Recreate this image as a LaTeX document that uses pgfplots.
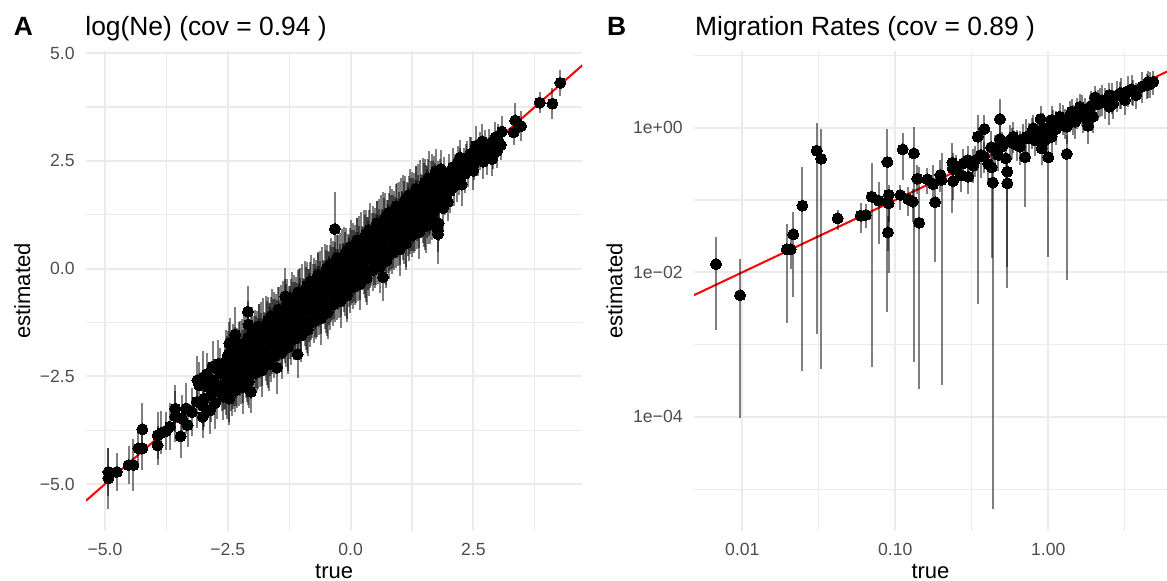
\documentclass[border=0pt]{standalone}
\usepackage{fontspec}
\setmainfont{Liberation Sans}
\usepackage{pgfplots}
\usepackage{pgfplotstable}
\pgfplotsset{compat=1.18}
\definecolor{grid92}{HTML}{EBEBEB}
\definecolor{grey30}{HTML}{4D4D4D}

\pgfplotstableread[row sep=\\]{
x y e \\
-2.60 -2.97 .55 \\ -2.57 -2.67 .62 \\ -2.55 -2.37 .48 \\ -2.53 -2.13 .70 \\ -2.51 -2.83 .66 \\
-2.49 -2.40 .58 \\ -2.48 -2.83 .74 \\ -2.46 -2.12 .52 \\ -2.44 -2.50 .80 \\ -2.42 -1.90 .45 \\
-2.40 -2.57 .68 \\ -2.37 -2.10 .60 \\ -2.35 -2.83 .50 \\ -2.33 -2.25 .75 \\ -2.31 -1.97 .58 \\
-2.28 -2.57 .62 \\ -2.26 -1.77 .55 \\ -2.25 -2.25 .70 \\ -2.23 -2.40 .52 \\ -2.22 -2.03 .85 \\
-2.20 -2.57 .55 \\ -2.17 -2.27 .62 \\ -2.15 -1.97 .48 \\ -2.13 -1.73 .70 \\ -2.11 -2.43 .66 \\
-2.09 -2.00 .58 \\ -2.08 -2.43 .74 \\ -2.06 -1.72 .52 \\ -2.04 -2.10 .80 \\ -2.02 -1.50 .45 \\
-2.00 -2.17 .68 \\ -1.97 -1.70 .60 \\ -1.95 -2.43 .50 \\ -1.93 -1.85 .75 \\ -1.91 -1.57 .58 \\
-1.88 -2.17 .62 \\ -1.86 -1.37 .55 \\ -1.85 -1.85 .70 \\ -1.83 -2.00 .52 \\ -1.82 -1.63 .85 \\
-1.80 -2.17 .55 \\ -1.77 -1.87 .62 \\ -1.75 -1.57 .48 \\ -1.73 -1.33 .70 \\ -1.71 -2.03 .66 \\
-1.69 -1.60 .58 \\ -1.68 -2.03 .74 \\ -1.66 -1.32 .52 \\ -1.64 -1.70 .80 \\ -1.62 -1.10 .45 \\
-1.60 -1.77 .68 \\ -1.57 -1.30 .60 \\ -1.55 -2.03 .50 \\ -1.53 -1.45 .75 \\ -1.51 -1.17 .58 \\
-1.48 -1.77 .62 \\ -1.46 -0.97 .55 \\ -1.45 -1.45 .70 \\ -1.43 -1.60 .52 \\ -1.42 -1.23 .85 \\
-1.40 -1.77 .55 \\ -1.37 -1.47 .62 \\ -1.35 -1.17 .48 \\ -1.33 -0.93 .70 \\ -1.31 -1.63 .66 \\
-1.29 -1.20 .58 \\ -1.28 -1.63 .74 \\ -1.26 -0.92 .52 \\ -1.24 -1.30 .80 \\ -1.22 -0.70 .45 \\
-1.20 -1.37 .68 \\ -1.17 -0.90 .60 \\ -1.15 -1.63 .50 \\ -1.13 -1.05 .75 \\ -1.11 -0.77 .58 \\
-1.08 -1.37 .62 \\ -1.06 -0.57 .55 \\ -1.05 -1.05 .70 \\ -1.03 -1.20 .52 \\ -1.02 -0.83 .85 \\
-1.00 -1.37 .55 \\ -0.97 -1.07 .62 \\ -0.95 -0.77 .48 \\ -0.93 -0.53 .70 \\ -0.91 -1.23 .66 \\
-0.89 -0.80 .58 \\ -0.88 -1.23 .74 \\ -0.86 -0.52 .52 \\ -0.84 -0.90 .80 \\ -0.82 -0.30 .45 \\
-0.80 -0.97 .68 \\ -0.77 -0.50 .60 \\ -0.75 -1.23 .50 \\ -0.73 -0.65 .75 \\ -0.71 -0.37 .58 \\
-0.68 -0.97 .62 \\ -0.66 -0.17 .55 \\ -0.65 -0.65 .70 \\ -0.63 -0.80 .52 \\ -0.62 -0.43 .85 \\
-0.60 -0.97 .55 \\ -0.57 -0.67 .62 \\ -0.55 -0.37 .48 \\ -0.53 -0.13 .70 \\ -0.51 -0.83 .66 \\
-0.49 -0.40 .58 \\ -0.48 -0.83 .74 \\ -0.46 -0.12 .52 \\ -0.44 -0.50 .80 \\ -0.42 0.10 .45 \\
-0.40 -0.57 .68 \\ -0.37 -0.10 .60 \\ -0.35 -0.83 .50 \\ -0.33 -0.25 .75 \\ -0.31 0.03 .58 \\
-0.28 -0.57 .62 \\ -0.26 0.23 .55 \\ -0.25 -0.25 .70 \\ -0.23 -0.40 .52 \\ -0.22 -0.03 .85 \\
-0.20 -0.57 .55 \\ -0.17 -0.27 .62 \\ -0.15 0.03 .48 \\ -0.13 0.27 .70 \\ -0.11 -0.43 .66 \\
-0.09 0.00 .58 \\ -0.08 -0.43 .74 \\ -0.06 0.28 .52 \\ -0.04 -0.10 .80 \\ -0.02 0.50 .45 \\
0.00 -0.17 .68 \\ 0.03 0.30 .60 \\ 0.05 -0.43 .50 \\ 0.07 0.15 .75 \\ 0.09 0.43 .58 \\
0.12 -0.17 .62 \\ 0.14 0.63 .55 \\ 0.15 0.15 .70 \\ 0.17 0.00 .52 \\ 0.18 0.37 .85 \\
0.20 -0.17 .55 \\ 0.23 0.13 .62 \\ 0.25 0.43 .48 \\ 0.27 0.67 .70 \\ 0.29 -0.03 .66 \\
0.31 0.40 .58 \\ 0.32 -0.03 .74 \\ 0.34 0.68 .52 \\ 0.36 0.30 .80 \\ 0.38 0.90 .45 \\
0.40 0.23 .68 \\ 0.43 0.70 .60 \\ 0.45 -0.03 .50 \\ 0.47 0.55 .75 \\ 0.49 0.83 .58 \\
0.52 0.23 .62 \\ 0.54 1.03 .55 \\ 0.55 0.55 .70 \\ 0.57 0.40 .52 \\ 0.58 0.77 .85 \\
0.60 0.23 .55 \\ 0.63 0.53 .62 \\ 0.65 0.83 .48 \\ 0.67 1.07 .70 \\ 0.69 0.37 .66 \\
0.71 0.80 .58 \\ 0.72 0.37 .74 \\ 0.74 1.08 .52 \\ 0.76 0.70 .80 \\ 0.78 1.30 .45 \\
0.80 0.63 .68 \\ 0.83 1.10 .60 \\ 0.85 0.37 .50 \\ 0.87 0.95 .75 \\ 0.89 1.23 .58 \\
0.92 0.63 .62 \\ 0.94 1.43 .55 \\ 0.95 0.95 .70 \\ 0.97 0.80 .52 \\ 0.98 1.17 .85 \\
1.00 0.63 .55 \\ 1.03 0.93 .62 \\ 1.05 1.23 .48 \\ 1.07 1.47 .70 \\ 1.09 0.77 .66 \\
1.11 1.20 .58 \\ 1.12 0.77 .74 \\ 1.14 1.48 .52 \\ 1.16 1.10 .80 \\ 1.18 1.70 .45 \\
1.20 1.03 .68 \\ 1.23 1.50 .60 \\ 1.25 0.77 .50 \\ 1.27 1.35 .75 \\ 1.29 1.63 .58 \\
1.32 1.03 .62 \\ 1.34 1.83 .55 \\ 1.35 1.35 .70 \\ 1.37 1.20 .52 \\ 1.38 1.57 .85 \\
1.40 1.03 .55 \\ 1.43 1.33 .62 \\ 1.45 1.63 .48 \\ 1.47 1.87 .70 \\ 1.49 1.17 .66 \\
1.51 1.60 .58 \\ 1.52 1.17 .74 \\ 1.54 1.88 .52 \\ 1.56 1.50 .80 \\ 1.58 2.10 .45 \\
1.60 1.43 .68 \\ 1.63 1.90 .60 \\ 1.65 1.17 .50 \\ 1.67 1.75 .75 \\ 1.69 2.03 .58 \\
-2.55 -2.55 .72 \\ -2.53 -2.80 .60 \\ -2.51 -2.22 .66 \\ -2.49 -2.00 .55 \\ -2.47 -3.02 .62 \\
-2.44 -2.25 .64 \\ -2.42 -2.85 .58 \\ -2.40 -1.98 .70 \\ -2.38 -2.58 .62 \\ -2.36 -2.40 .50 \\
-2.35 -1.95 .60 \\ -2.33 -2.40 .78 \\ -2.31 -2.68 .56 \\ -2.29 -2.18 .64 \\ -2.27 -1.75 .52 \\
-2.24 -2.45 .70 \\ -2.22 -2.00 .58 \\ -2.20 -2.75 .62 \\ -2.18 -1.75 .66 \\ -2.16 -2.15 .74 \\
-2.15 -2.15 .72 \\ -2.13 -2.40 .60 \\ -2.11 -1.82 .66 \\ -2.09 -1.60 .55 \\ -2.07 -2.62 .62 \\
-2.04 -1.85 .64 \\ -2.02 -2.45 .58 \\ -2.00 -1.58 .70 \\ -1.98 -2.18 .62 \\ -1.96 -2.00 .50 \\
-1.95 -1.55 .60 \\ -1.93 -2.00 .78 \\ -1.91 -2.28 .56 \\ -1.89 -1.78 .64 \\ -1.87 -1.35 .52 \\
-1.84 -2.05 .70 \\ -1.82 -1.60 .58 \\ -1.80 -2.35 .62 \\ -1.78 -1.35 .66 \\ -1.76 -1.75 .74 \\
-1.75 -1.75 .72 \\ -1.73 -2.00 .60 \\ -1.71 -1.42 .66 \\ -1.69 -1.20 .55 \\ -1.67 -2.22 .62 \\
-1.64 -1.45 .64 \\ -1.62 -2.05 .58 \\ -1.60 -1.18 .70 \\ -1.58 -1.78 .62 \\ -1.56 -1.60 .50 \\
-1.55 -1.15 .60 \\ -1.53 -1.60 .78 \\ -1.51 -1.88 .56 \\ -1.49 -1.38 .64 \\ -1.47 -0.95 .52 \\
-1.44 -1.65 .70 \\ -1.42 -1.20 .58 \\ -1.40 -1.95 .62 \\ -1.38 -0.95 .66 \\ -1.36 -1.35 .74 \\
-1.35 -1.35 .72 \\ -1.33 -1.60 .60 \\ -1.31 -1.02 .66 \\ -1.29 -0.80 .55 \\ -1.27 -1.82 .62 \\
-1.24 -1.05 .64 \\ -1.22 -1.65 .58 \\ -1.20 -0.78 .70 \\ -1.18 -1.38 .62 \\ -1.16 -1.20 .50 \\
-1.15 -0.75 .60 \\ -1.13 -1.20 .78 \\ -1.11 -1.48 .56 \\ -1.09 -0.98 .64 \\ -1.07 -0.55 .52 \\
-1.04 -1.25 .70 \\ -1.02 -0.80 .58 \\ -1.00 -1.55 .62 \\ -0.98 -0.55 .66 \\ -0.96 -0.95 .74 \\
-0.95 -0.95 .72 \\ -0.93 -1.20 .60 \\ -0.91 -0.62 .66 \\ -0.89 -0.40 .55 \\ -0.87 -1.42 .62 \\
-0.84 -0.65 .64 \\ -0.82 -1.25 .58 \\ -0.80 -0.38 .70 \\ -0.78 -0.98 .62 \\ -0.76 -0.80 .50 \\
-0.75 -0.35 .60 \\ -0.73 -0.80 .78 \\ -0.71 -1.08 .56 \\ -0.69 -0.58 .64 \\ -0.67 -0.15 .52 \\
-0.64 -0.85 .70 \\ -0.62 -0.40 .58 \\ -0.60 -1.15 .62 \\ -0.58 -0.15 .66 \\ -0.56 -0.55 .74 \\
-0.55 -0.55 .72 \\ -0.53 -0.80 .60 \\ -0.51 -0.22 .66 \\ -0.49 0.00 .55 \\ -0.47 -1.02 .62 \\
-0.44 -0.25 .64 \\ -0.42 -0.85 .58 \\ -0.40 0.02 .70 \\ -0.38 -0.58 .62 \\ -0.36 -0.40 .50 \\
-0.35 0.05 .60 \\ -0.33 -0.40 .78 \\ -0.31 -0.68 .56 \\ -0.29 -0.18 .64 \\ -0.27 0.25 .52 \\
-0.24 -0.45 .70 \\ -0.22 0.00 .58 \\ -0.20 -0.75 .62 \\ -0.18 0.25 .66 \\ -0.16 -0.15 .74 \\
-0.15 -0.15 .72 \\ -0.13 -0.40 .60 \\ -0.11 0.18 .66 \\ -0.09 0.40 .55 \\ -0.07 -0.62 .62 \\
-0.04 0.15 .64 \\ -0.02 -0.45 .58 \\ 0.00 0.42 .70 \\ 0.02 -0.18 .62 \\ 0.04 0.00 .50 \\
0.05 0.45 .60 \\ 0.07 0.00 .78 \\ 0.09 -0.28 .56 \\ 0.11 0.22 .64 \\ 0.13 0.65 .52 \\
0.16 -0.05 .70 \\ 0.18 0.40 .58 \\ 0.20 -0.35 .62 \\ 0.22 0.65 .66 \\ 0.24 0.25 .74 \\
0.25 0.25 .72 \\ 0.27 0.00 .60 \\ 0.29 0.58 .66 \\ 0.31 0.80 .55 \\ 0.33 -0.22 .62 \\
0.36 0.55 .64 \\ 0.38 -0.05 .58 \\ 0.40 0.82 .70 \\ 0.42 0.22 .62 \\ 0.44 0.40 .50 \\
0.45 0.85 .60 \\ 0.47 0.40 .78 \\ 0.49 0.12 .56 \\ 0.51 0.62 .64 \\ 0.53 1.05 .52 \\
0.56 0.35 .70 \\ 0.58 0.80 .58 \\ 0.60 0.05 .62 \\ 0.62 1.05 .66 \\ 0.64 0.65 .74 \\
0.65 0.65 .72 \\ 0.67 0.40 .60 \\ 0.69 0.98 .66 \\ 0.71 1.20 .55 \\ 0.73 0.18 .62 \\
0.76 0.95 .64 \\ 0.78 0.35 .58 \\ 0.80 1.22 .70 \\ 0.82 0.62 .62 \\ 0.84 0.80 .50 \\
0.85 1.25 .60 \\ 0.87 0.80 .78 \\ 0.89 0.52 .56 \\ 0.91 1.02 .64 \\ 0.93 1.45 .52 \\
0.96 0.75 .70 \\ 0.98 1.20 .58 \\ 1.00 0.45 .62 \\ 1.02 1.45 .66 \\ 1.04 1.05 .74 \\
1.05 1.05 .72 \\ 1.07 0.80 .60 \\ 1.09 1.38 .66 \\ 1.11 1.60 .55 \\ 1.13 0.58 .62 \\
1.16 1.35 .64 \\ 1.18 0.75 .58 \\ 1.20 1.62 .70 \\ 1.22 1.02 .62 \\ 1.24 1.20 .50 \\
1.25 1.65 .60 \\ 1.27 1.20 .78 \\ 1.29 0.92 .56 \\ 1.31 1.42 .64 \\ 1.33 1.85 .52 \\
1.36 1.15 .70 \\ 1.38 1.60 .58 \\ 1.40 0.85 .62 \\ 1.42 1.85 .66 \\ 1.44 1.45 .74 \\
1.45 1.45 .72 \\ 1.47 1.20 .60 \\ 1.49 1.78 .66 \\ 1.51 2.00 .55 \\ 1.53 0.98 .62 \\
1.56 1.75 .64 \\ 1.58 1.15 .58 \\ 1.60 2.02 .70 \\ 1.62 1.42 .62 \\ 1.64 1.60 .50 \\
1.65 2.05 .60 \\ 1.67 1.60 .78 \\ 1.69 1.32 .56 \\ 1.71 1.82 .64 \\ 1.73 2.25 .52 \\
1.70 1.45 .50 \\ 1.72 1.95 .45 \\ 1.75 1.70 .55 \\ 1.77 2.10 .40 \\
1.80 1.60 .45 \\ 1.83 2.05 .50 \\ 1.85 1.85 .40 \\ 1.88 1.40 .55 \\
1.90 2.15 .45 \\ 1.92 1.75 .50 \\ 1.95 1.95 .40 \\ 1.98 1.55 .45 \\
2.00 2.20 .45 \\ 2.03 1.80 .50 \\ 2.05 2.00 .40 \\ 2.08 2.35 .45 \\
2.10 1.90 .45 \\ 2.13 2.25 .40 \\ 2.16 2.05 .50 \\ 2.18 2.45 .40 \\
2.20 2.10 .40 \\ 2.23 2.35 .45 \\ 2.26 1.95 .50 \\
2.30 2.40 .40 \\ 2.33 2.20 .45 \\ 2.37 2.55 .40 \\
2.40 2.30 .40 \\ 2.45 2.60 .45 \\ 2.52 2.45 .40 \\
4.27 4.31 .30 \\ 3.85 3.85 .25 \\ 4.11 3.83 .35 \\ 3.35 3.44 .40 \\ 3.47 3.31 .35 \\
3.32 3.16 .30 \\ 3.08 3.18 .35 \\ 3.01 2.96 .40 \\ 3.06 2.87 .35 \\ 2.98 2.73 .40 \\
2.88 2.54 .40 \\ 2.74 2.81 .40 \\ 2.64 2.73 .45 \\ 2.77 2.58 .40 \\ 2.50 2.27 .45 \\
2.43 2.66 .40 \\ 2.23 2.58 .40 \\ 1.84 2.31 .45 \\ 1.79 1.05 .40 \\ 1.78 0.80 .70 \\
1.62 1.02 .45 \\ 1.78 0.88 .50 \\
2.60 2.55 .40 \\ 2.68 2.95 .40 \\ 2.82 2.90 .35 \\ 2.90 2.70 .40 \\ 2.55 2.85 .45 \\
2.35 2.50 .40 \\ 2.70 2.48 .40 \\ 2.95 3.05 .35 \\
-4.93 -4.72 .55 \\ -4.93 -4.87 .70 \\ -4.76 -4.72 .45 \\ -4.52 -4.56 .45 \\ -4.42 -4.56 .60 \\
-4.32 -4.17 .45 \\ -4.24 -4.17 .50 \\ -4.24 -3.73 .60 \\ -3.93 -4.10 .45 \\ -3.93 -3.87 .55 \\
-3.85 -3.81 .50 \\ -3.76 -3.77 .45 \\ -3.68 -3.67 .55 \\ -3.57 -3.43 .60 \\ -3.57 -3.25 .55 \\
-3.46 -3.89 .50 \\ -3.44 -3.48 .55 \\ -3.32 -3.63 .50 \\ -3.35 -3.25 .60 \\ -3.23 -3.33 .55 \\
-3.13 -3.09 .60 \\ -3.01 -3.44 .50 \\ -3.00 -3.19 .55 \\ -2.98 -3.02 .65 \\ -3.12 -2.59 .55 \\
-3.00 -2.52 .60 \\ -3.08 -2.71 .55 \\ -2.86 -3.29 .55 \\ -2.76 -3.12 .60 \\ -2.81 -2.28 .60 \\
-2.69 -2.21 .55 \\ -2.45 -1.74 .60 \\ -2.35 -1.53 .65 \\ -2.03 -2.86 .50 \\ -2.09 -1.00 .60 \\
-2.08 -1.30 .55 \\ -2.47 -1.73 .50 \\ -1.50 -2.30 .60 \\ -1.08 -1.99 .55 \\ -1.33 -0.64 .65 \\
-0.32 0.92 .85 \\ 0.66 -0.20 .55 \\
-2.90 -2.75 .55 \\ -2.85 -2.95 .60 \\ -2.78 -2.60 .50 \\ -2.72 -2.85 .65 \\ -2.66 -2.40 .55 \\
-2.62 -2.70 .60 \\ -2.93 -2.45 .50 \\
}\neData

\pgfplotstableread[row sep=\\]{
x y lo hi \\
0.00673 0.0130 0.00159 0.031 \\
0.00966 0.00481 0.000096 0.0151 \\
0.0195 0.0208 0.00197 0.047 \\
0.0207 0.0208 0.011 0.035 \\
0.0215 0.0335 0.0046 0.069 \\
0.0247 0.0834 0.000436 0.283 \\
0.0306 0.481 0.00139 1.17 \\
0.0327 0.372 0.000456 0.97 \\
0.042 0.0558 0.038 0.073 \\
0.0594 0.0607 0.0353 0.0918 \\
0.0641 0.062 0.0407 0.088 \\
0.0701 0.111 0.00049 0.32 \\
0.0779 0.0979 0.025 0.18 \\
0.0887 0.336 0.0028 0.95 \\
0.0906 0.118 0.0097 0.16 \\
0.0906 0.09 0.05 0.14 \\
0.0895 0.0357 0.02 0.06 \\
0.1117 0.50 0.19 0.84 \\
0.108 0.117 0.073 0.16 \\
0.1216 0.102 0.06 0.15 \\
0.1324 0.442 0.00058 1.03 \\
0.130 0.095 0.05 0.14 \\
0.139 0.197 0.12 0.30 \\
0.143 0.0485 0.00024 0.29 \\
0.162 0.193 0.12 0.28 \\
0.182 0.093 0.014 0.20 \\
0.177 0.166 0.09 0.30 \\
0.201 0.189 0.00028 0.44 \\
0.197 0.222 0.13 0.36 \\
0.236 0.328 0.066 0.61 \\
0.237 0.274 0.16 0.45 \\
0.239 0.183 0.10 0.30 \\
0.278 0.322 0.20 0.50 \\
0.297 0.357 0.20 0.55 \\
0.30 0.21 0.12 0.35 \\
0.324 0.298 0.17 0.50 \\
0.346 0.75 0.0037 1.5 \\
0.382 0.96 0.45 1.5 \\
0.362 0.42 0.20 0.70 \\
0.406 0.315 0.16 0.55 \\
0.423 0.536 0.30 0.90 \\
0.426 0.283 0.016 0.50 \\
0.434 0.174 0.0000054 0.40 \\
0.483 1.32 0.61 2.46 \\
0.483 0.70 0.35 1.10 \\
0.528 0.377 0.20 0.65 \\
0.54 0.246 0.012 0.45 \\
0.54 0.17 0.006 0.35 \\
0.562 0.676 0.40 1.10 \\
0.59 0.75 0.45 1.20 \\
0.653 0.546 0.30 0.90 \\
0.705 0.39 0.08 0.70 \\
0.72 0.75 0.45 1.30 \\
0.798 0.98 0.55 1.50 \\
0.818 0.676 0.40 1.10 \\
0.891 1.32 0.80 2.00 \\
0.905 0.52 0.30 0.85 \\
0.95 0.676 0.40 1.10 \\
1.00 0.39 0.0165 0.70 \\
1.05 1.28 0.75 2.00 \\
1.05 0.75 0.45 1.20 \\
1.13 1.09 0.65 1.70 \\
1.19 1.42 0.85 2.20 \\
1.32 0.433 0.0078 0.80 \\
1.32 1.03 0.60 1.60 \\
1.42 1.66 1.00 2.50 \\
1.50 1.21 0.70 1.90 \\
1.61 1.95 1.20 2.90 \\
1.69 1.42 0.85 2.20 \\
1.82 1.06 0.60 1.60 \\
1.87 1.85 1.10 2.80 \\
1.96 1.42 0.85 2.20 \\
2.02 2.63 1.60 3.80 \\
2.18 2.36 1.40 3.50 \\
2.51 2.83 1.70 4.10 \\
2.51 1.95 1.10 3.00 \\
2.66 2.17 1.30 3.30 \\
2.94 2.99 1.80 4.30 \\
3.17 2.42 1.50 3.60 \\
3.59 3.15 2.00 4.60 \\
3.74 2.83 1.80 4.20 \\
4.40 3.89 2.50 5.60 \\
4.86 4.33 2.80 6.00 \\
4.60 4.00 2.60 5.80 \\
0.25 0.26 0.16 0.42 \\
0.27 0.22 0.13 0.36 \\
0.33 0.35 0.21 0.56 \\
0.38 0.40 0.24 0.64 \\
0.45 0.50 0.30 0.80 \\
0.47 0.42 0.25 0.67 \\
0.50 0.55 0.33 0.88 \\
0.58 0.62 0.37 0.99 \\
0.62 0.58 0.35 0.93 \\
0.68 0.70 0.42 1.12 \\
0.75 0.72 0.43 1.15 \\
0.78 0.85 0.51 1.36 \\
0.85 0.90 0.54 1.44 \\
0.88 0.78 0.47 1.25 \\
0.93 1.00 0.60 1.60 \\
0.98 0.92 0.55 1.47 \\
1.08 1.10 0.66 1.76 \\
1.12 0.95 0.57 1.52 \\
1.25 1.30 0.78 2.08 \\
1.28 1.15 0.69 1.84 \\
1.38 1.45 0.87 2.32 \\
1.45 1.30 0.78 2.08 \\
1.55 1.60 0.96 2.56 \\
1.65 1.75 1.05 2.80 \\
1.75 1.60 0.96 2.56 \\
1.90 2.00 1.20 3.20 \\
2.10 2.10 1.26 3.36 \\
2.25 2.40 1.44 3.84 \\
2.35 2.20 1.32 3.52 \\
2.60 2.60 1.56 4.16 \\
2.80 2.75 1.65 4.40 \\
3.00 3.00 1.80 4.80 \\
3.30 3.20 1.92 5.12 \\
3.50 3.40 2.04 5.44 \\
4.10 3.70 2.22 5.92 \\
4.50 4.30 2.58 6.10 \\
}\migData

\pgfplotsset{
  ggmin/.style={
    scale only axis, anchor=south west,
    height=240pt,
    axis line style={draw=none},
    major tick length=0pt, minor tick length=0pt,
    grid=both,
    major grid style={line width=1.07pt, color=grid92},
    minor grid style={line width=0.53pt, color=grid92},
    tick label style={font=\fontsize{8.8}{10}\selectfont, text=grey30, inner sep=0pt},
    xticklabel style={anchor=base, yshift=-12.2pt},
    yticklabel style={anchor=east, xshift=-5.5pt},
    clip=true,
  },
  pts/.style={only marks, mark=*, mark size=2.75pt, mark options={fill=black, draw=black, line width=0pt}},
  ebar/.style={draw=none, mark=none, forget plot,
    error bars/.cd, y dir=both, y explicit, error mark=none,
    error bar style={draw=black, opacity=0.5, line width=1pt}},
}

\begin{document}
\begin{tikzpicture}
\path[use as bounding box] (0,0) rectangle (583.5pt,290pt);

% ---------- Panel A ----------
\begin{axis}[ggmin,
  at={(43pt,24.5pt)}, width=248.2pt,
  xmin=-5.387, xmax=4.72, ymin=-6.09, ymax=5.05,
  xtick={-5,-2.5,0,2.5}, xticklabels={−5.0,−2.5,0.0,2.5},
  ytick={-5,-2.5,0,2.5,5}, yticklabels={−5.0,−2.5,0.0,2.5,5.0},
  minor xtick={-3.75,-1.25,1.25,3.75},
  minor ytick={-3.75,-1.25,1.25,3.75},
]
\addplot[pts] table[x=x,y=y] {\neData};
\addplot[red, line width=1pt, no marks] coordinates {(-5.387,-5.387) (4.72,4.72)};
\addplot[ebar] table[x=x,y=y,y error=e] {\neData};
\end{axis}

% ---------- Panel B ----------
\begin{axis}[ggmin,
  at={(347pt,24.5pt)}, width=236.5pt,
  xmode=log, ymode=log,
  xmin=0.00483, xmax=5.97, ymin=2.64e-6, ymax=11.5,
  xtick={0.01,0.1,1}, xticklabels={0.01,0.10,1.00},
  ytick={1e-4,1e-2,1}, yticklabels={1e−04,1e−02,1e+00},
  minor xtick={0.0316228,0.316228,3.16228},
  minor ytick={1e-5,1e-3,1e-1,10},
]
\addplot[pts] table[x=x,y=y] {\migData};
\addplot[red, line width=1pt, no marks] coordinates {(0.00483,0.00483) (5.97,5.97)};
\addplot[ebar] table[x=x,y=y,
  y error plus expr=\thisrow{hi}-\thisrow{y},
  y error minus expr=\thisrow{y}-\thisrow{lo}] {\migData};
\end{axis}

% ---------- titles and labels ----------
\node[anchor=base west, inner sep=0pt, font=\bfseries\fontsize{13.2}{15}\selectfont] at (6.7pt,272.5pt) {A};
\node[anchor=base west, inner sep=0pt, font=\fontsize{13.2}{15}\selectfont] at (42.5pt,272.5pt) {log(Ne) (cov = 0.94 )};
\node[anchor=base west, inner sep=0pt, font=\bfseries\fontsize{13.2}{15}\selectfont] at (303.3pt,272.5pt) {B};
\node[anchor=base west, inner sep=0pt, font=\fontsize{13.2}{15}\selectfont] at (347.4pt,272.5pt) {Migration Rates (cov = 0.89 )};

\node[anchor=base, inner sep=0pt, font=\fontsize{11}{13}\selectfont] at (167.1pt,1pt) {true};
\node[anchor=base, inner sep=0pt, font=\fontsize{11}{13}\selectfont] at (465.25pt,1pt) {true};
\node[anchor=base, rotate=90, inner sep=0pt, font=\fontsize{11}{13}\selectfont] at (15pt,144.5pt) {estimated};
\node[anchor=base, rotate=90, inner sep=0pt, font=\fontsize{11}{13}\selectfont] at (311.2pt,144.5pt) {estimated};
\end{tikzpicture}
\end{document}
